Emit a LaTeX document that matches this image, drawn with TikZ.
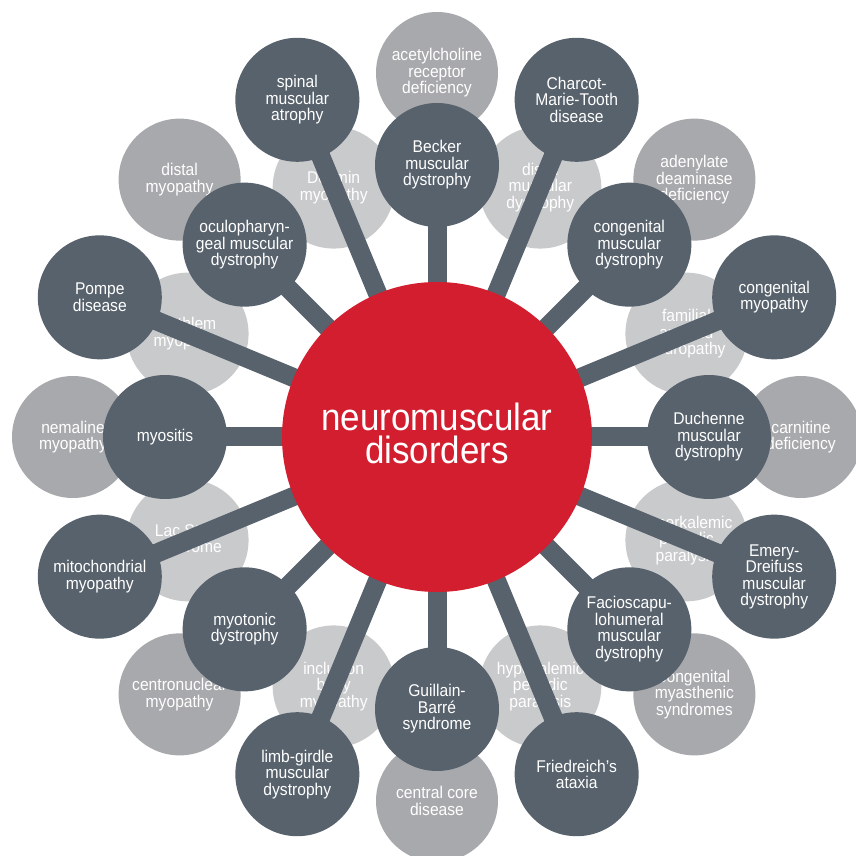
\documentclass[tikz,border=0pt]{standalone}
\usepackage{fontspec}
\setmainfont{Liberation Sans}[FakeStretch=0.92]
\definecolor{darkc}{RGB}{88,98,108}
\definecolor{lightout}{RGB}{168,169,172}
\definecolor{lightin}{RGB}{201,202,204}
\definecolor{redc}{RGB}{210,30,46}
\pgfdeclarelayer{bgbg}
\pgfdeclarelayer{bg}
\pgfsetlayers{bgbg,bg,main}
\begin{document}
\begin{tikzpicture}[x=1pt,y=1pt,
  txt/.style={align=center, text=white, font=\fontsize{17}{16.5}\selectfont},
  dk/.style={circle, fill=darkc, minimum size=124pt, inner sep=0pt, txt},
  lo/.style={circle, fill=lightout, minimum size=122pt, inner sep=0pt, txt},
  li/.style={circle, fill=lightin, minimum size=122pt, inner sep=0pt, txt},
  hub/.style={circle, fill=redc, minimum size=310pt, inner sep=0pt},
  hubtxt/.style={text=white, inner sep=0pt, anchor=base, font=\fontsize{38}{38}\selectfont},
  stem/.style={draw=darkc, line width=19pt}]
\useasboundingbox (-437,-419) rectangle (419,437);
\begin{pgfonlayer}{bgbg}
% outer light ring
\node[lo] (ach) at (90:364) {acetylcholine\\receptor\\deficiency};
\node[lo] (ada) at (45:364) {adenylate\\deaminase\\deficiency};
\node[lo] (car) at (0:364) {carnitine\\deficiency};
\node[lo] (cms) at (-45:364) {congenital\\myasthenic\\syndromes};
\node[lo] (ccd) at (-90:364) {central core\\disease};
\node[lo] (cnm) at (-135:364) {centronuclear\\myopathy};
\node[lo] (nem) at (180:364) {nemaline\\myopathy};
\node[lo] (dmy) at (135:364) {distal\\myopathy};
% inner light ring
\node[li] (des) at (112.5:270) {Desmin\\myopathy};
\node[li] (dmd) at (67.5:270) {distal\\muscular\\dystrophy};
\node[li] (fan) at (22.5:270) {familial\\amyloid\\neuropathy};
\node[li] (hyper) at (-22.5:270) {hyperkalemic\\periodic\\paralysis};
\node[li] (hypo) at (-67.5:270) {hypokalemic\\periodic\\paralysis};
\node[li] (ibm) at (-112.5:270) {inclusion\\body\\myopathy};
\node[li] (lac) at (-157.5:270) {Lac Stein\\syndrome};
\node[li] (bet) at (157.5:270) {Bethlem\\myopathy};
\end{pgfonlayer}
% hub
\node[hub] (c) at (0,0) {};
\node[hubtxt] (c1) at (0,6) {neuromuscular};
\node[hubtxt] (c2) at (0,-27) {disorders};
% inner dark ring
\node[dk] (becker) at (90:272) {Becker\\muscular\\dystrophy};
\node[dk] (cmd) at (45:272) {congenital\\muscular\\dystrophy};
\node[dk] (duch) at (0:272) {Duchenne\\muscular\\dystrophy};
\node[dk] (fshd) at (-45:272) {Facioscapu-\\lohumeral\\muscular\\dystrophy};
\node[dk] (gbs) at (-90:272) {Guillain-\\Barré\\syndrome};
\node[dk] (myot) at (-135:272) {myotonic\\dystrophy};
\node[dk] (myos) at (180:272) {myositis};
\node[dk] (opmd) at (135:272) {oculopharyn-\\geal muscular\\dystrophy};
% outer dark ring
\node[dk] (sma) at (112.5:365) {spinal\\muscular\\atrophy};
\node[dk] (cmt) at (67.5:365) {Charcot-\\Marie-Tooth\\disease};
\node[dk] (cmy) at (22.5:365) {congenital\\myopathy};
\node[dk] (edmd) at (-22.5:365) {Emery-\\Dreifuss\\muscular\\dystrophy};
\node[dk] (fa) at (-67.5:365) {Friedreich’s\\ataxia};
\node[dk] (lgmd) at (-112.5:365) {limb-girdle\\muscular\\dystrophy};
\node[dk] (mito) at (-157.5:365) {mitochondrial\\myopathy};
\node[dk] (pom) at (157.5:365) {Pompe\\disease};
\begin{pgfonlayer}{bg}
\foreach \n in {becker,cmd,duch,fshd,gbs,myot,myos,opmd,sma,cmt,cmy,edmd,fa,lgmd,mito,pom}
  \draw[stem] (c.center) -- (\n.center);
\end{pgfonlayer}
\end{tikzpicture}
\end{document}
